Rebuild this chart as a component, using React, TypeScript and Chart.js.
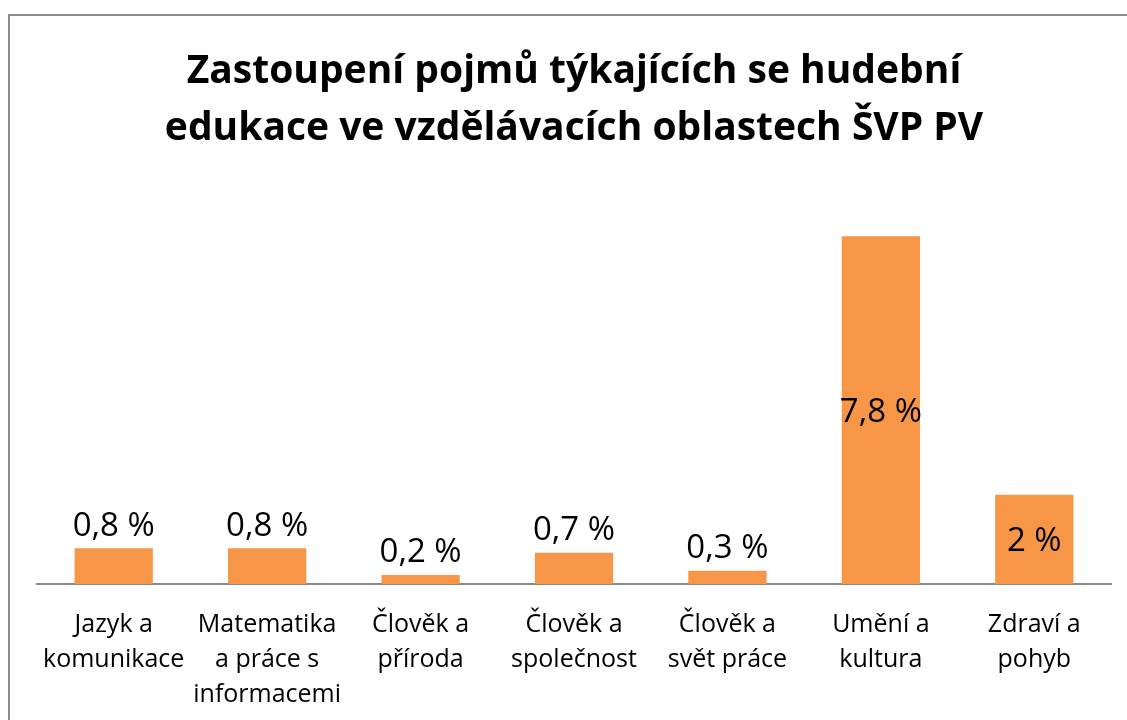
import React, { useEffect, useRef } from "react";
import { Chart, registerables } from "chart.js";

Chart.register(...registerables);

const titleLines = [
  "Zastoupení pojmů týkajících se hudební",
  "edukace ve vzdělávacích oblastech ŠVP PV",
];

const categories: string[][] = [
  ["Jazyk a", "komunikace"],
  ["Matematika", "a práce s", "informacemi"],
  ["Člověk a", "příroda"],
  ["Člověk a", "společnost"],
  ["Člověk a", "svět práce"],
  ["Umění a", "kultura"],
  ["Zdraví a", "pohyb"],
];

const values = [0.8, 0.8, 0.2, 0.7, 0.3, 7.8, 2];

const FONT = "'Open Sans', Lato, sans-serif";

const labelPlugin = {
  id: "barLabels",
  afterDatasetsDraw(chart: any) {
    const ctx = chart.ctx;
    const meta = chart.getDatasetMeta(0);
    ctx.save();
    ctx.font = `33px ${FONT}`;
    ctx.fillStyle = "#000";
    ctx.textAlign = "center";
    ctx.textBaseline = "middle";
    meta.data.forEach((bar: any, i: number) => {
      const v = values[i];
      const txt = String(v).replace(".", ",") + " %";
      let y: number;
      if (v >= 1.5) {
        y = (bar.y + bar.base) / 2 + 2;
      } else {
        y = bar.y - 22;
      }
      ctx.fillText(txt, bar.x, y);
    });
    ctx.restore();
  },
};

export default function App() {
  const ref = useRef<HTMLCanvasElement>(null);
  useEffect(() => {
    if (!ref.current) return;
    const chart = new Chart(ref.current, {
      type: "bar",
      data: {
        labels: categories,
        datasets: [
          {
            data: values,
            backgroundColor: "#F79646",
            borderWidth: 0,
            barPercentage: 0.51,
            categoryPercentage: 1,
          },
        ],
      },
      options: {
        responsive: false,
        animation: false,
        layout: { padding: { left: 27, right: 29, top: 0, bottom: 0 } },
        plugins: {
          legend: { display: false },
          tooltip: { enabled: false },
          title: {
            display: true,
            text: titleLines,
            color: "#000",
            font: { family: FONT, size: 39, weight: "bold", lineHeight: 1.46 },
            padding: { top: 27, bottom: 26 },
          },
        },
        scales: {
          x: {
            grid: { display: false },
            border: { display: true, color: "#898989", width: 2 },
            ticks: {
              color: "#000",
              font: { family: FONT, size: 25, lineHeight: 1.4 },
              maxRotation: 0,
              autoSkip: false,
              padding: 15,
            },
          },
          y: {
            display: false,
            min: 0,
            max: 9,
          },
        },
      },
      plugins: [labelPlugin],
    });
    return () => chart.destroy();
  }, []);

  return (
    <div
      style={{
        position: "fixed",
        left: 8,
        top: 14,
        width: 1140,
        height: 720,
        border: "2px solid #8a8a8a",
        background: "#fff",
      }}
    >
      <canvas ref={ref} width={1130} height={711} style={{ display: "block" }} />
    </div>
  );
}
